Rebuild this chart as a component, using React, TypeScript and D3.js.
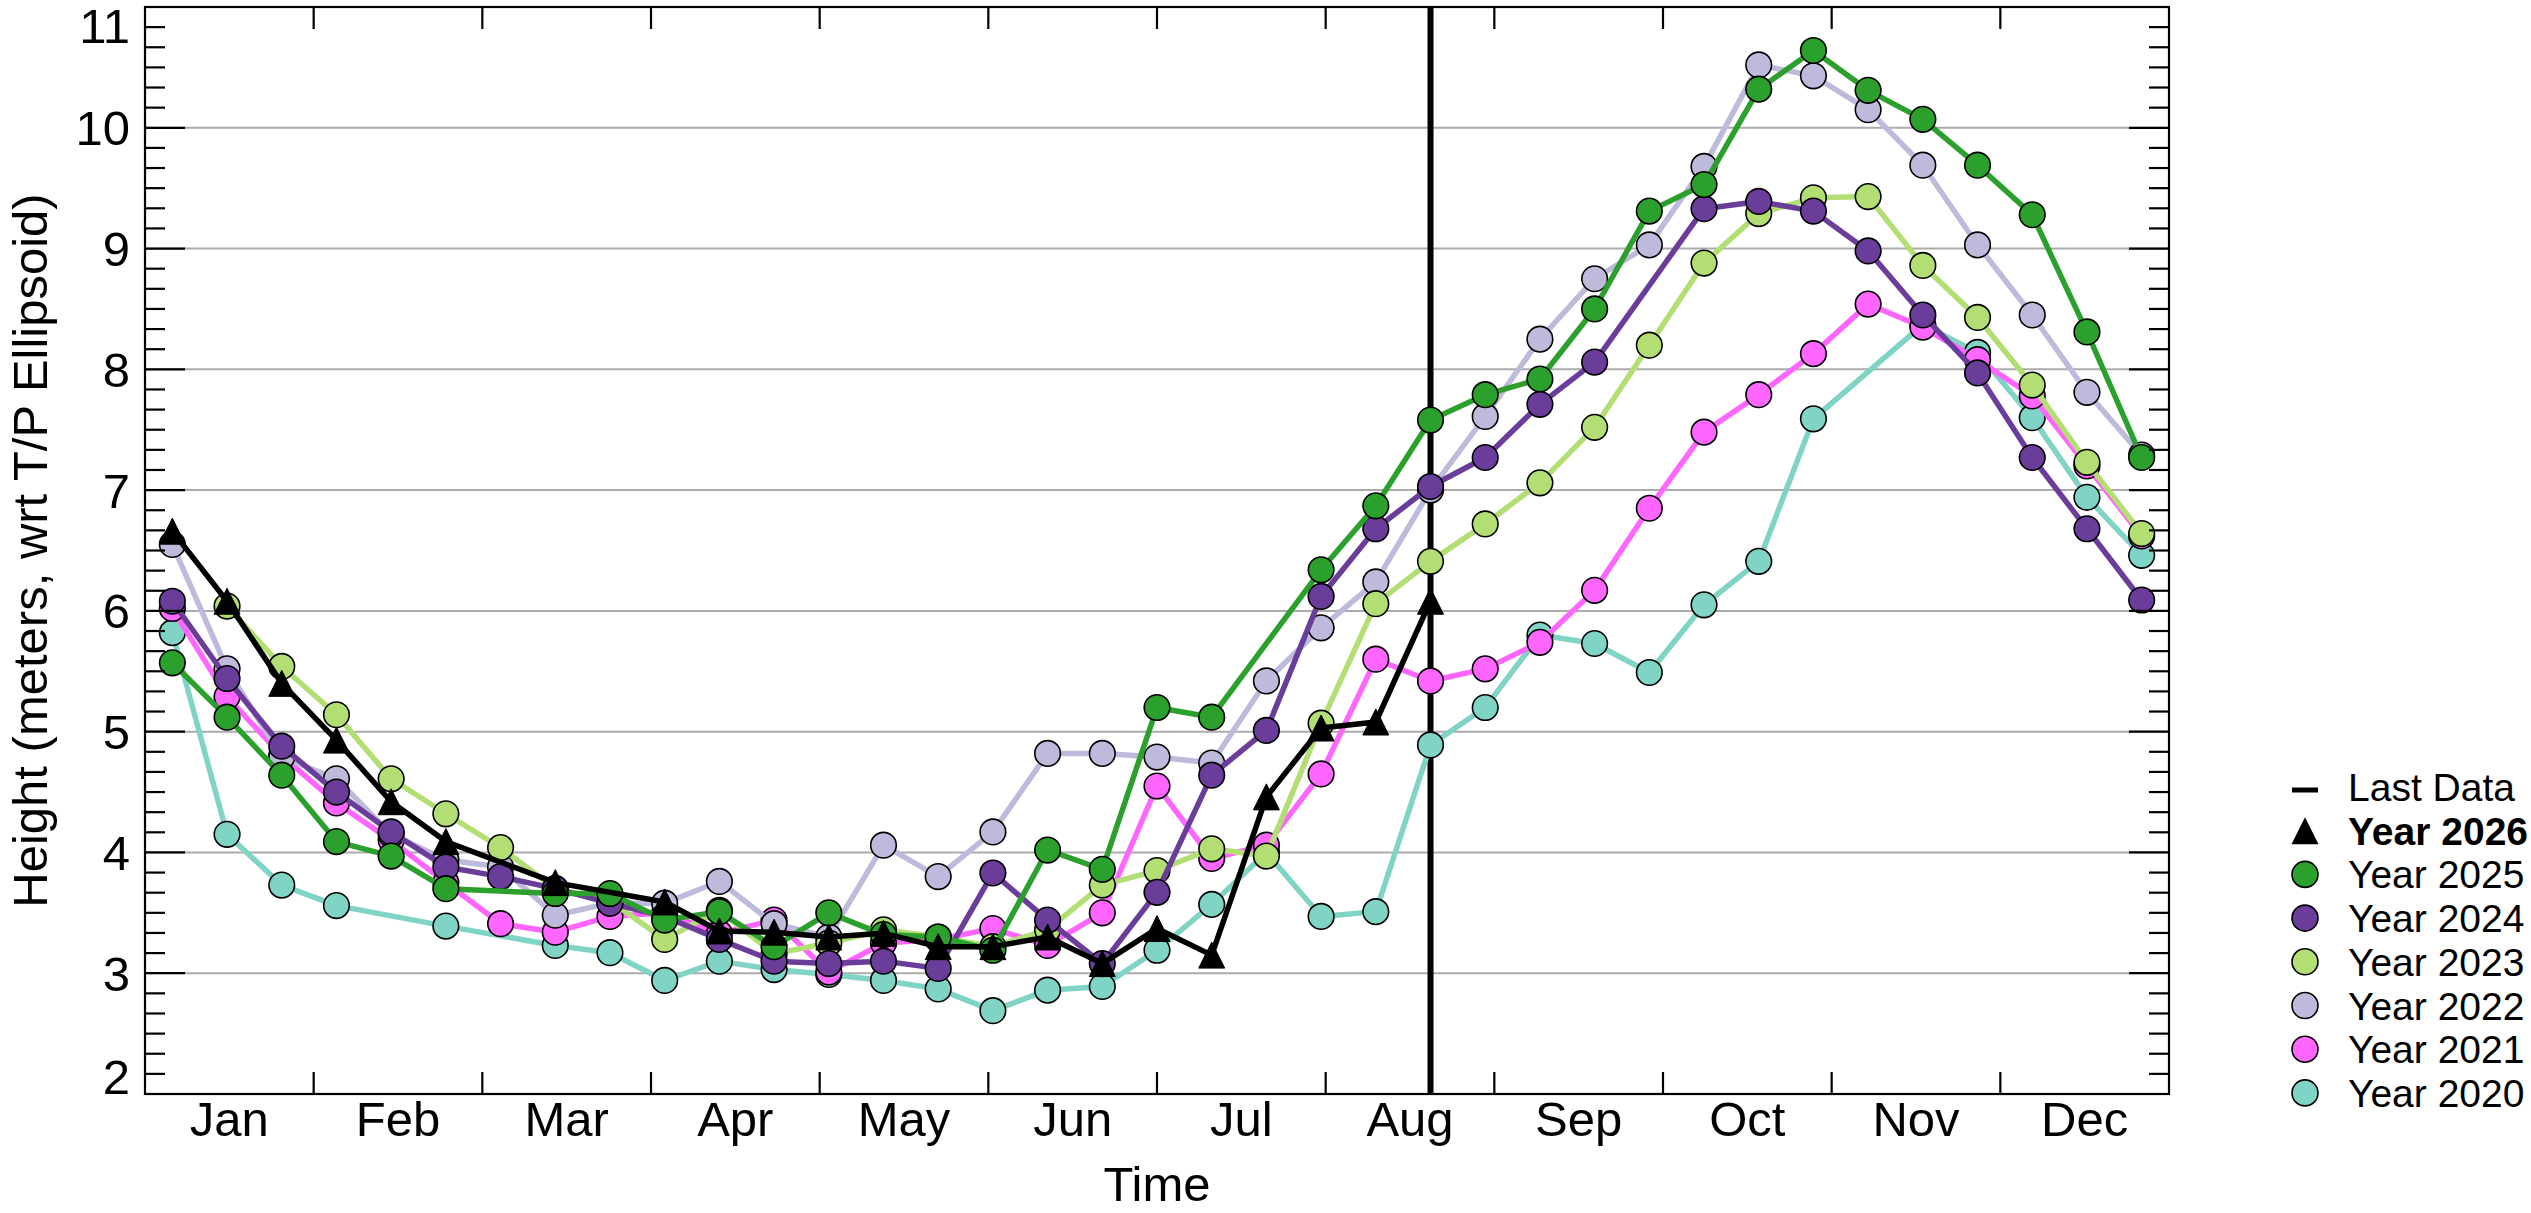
import React from "react";
import * as d3 from "d3";

const W = 2531;
const H = 1213;
const L = 145, R = 2169, T = 7, B = 1094;
const NBINS = 37;

const months = ["Jan", "Feb", "Mar", "Apr", "May", "Jun", "Jul", "Aug", "Sep", "Oct", "Nov", "Dec"];
const yTicks = [2, 3, 4, 5, 6, 7, 8, 9, 10, 11];
const lastDataBin = 23;

type V = number | null;

const y2026: V[] = [6.66, 6.08, 5.40, 4.93, 4.42, 4.09, null, 3.75, null, 3.59, 3.35, 3.34, 3.30, 3.33, 3.22, 3.22, 3.30, 3.08, 3.37, 3.15, 4.46, 5.03, 5.08, 6.08];
const y2025: V[] = [5.57, 5.12, 4.64, 4.09, 3.97, 3.70, null, 3.66, 3.66, 3.44, 3.51, 3.22, 3.50, 3.32, 3.30, 3.19, 4.02, 3.86, 5.20, 5.12, null, 6.34, 6.87, 7.58, 7.79, 7.92, 8.50, 9.31, 9.53, 10.32, 10.64, 10.31, 10.07, 9.69, 9.28, 8.31, 7.27];
const y2024: V[] = [6.08, 5.44, 4.88, 4.50, 4.17, 3.88, 3.80, 3.70, 3.58, 3.47, 3.28, 3.10, 3.08, 3.10, 3.04, 3.83, 3.44, 3.08, 3.67, 4.64, 5.01, 6.12, 6.68, 7.03, 7.27, 7.71, 8.06, null, 9.33, 9.39, 9.31, 8.98, 8.45, 7.97, 7.27, 6.68, 6.09];
const y2023: V[] = [null, 6.04, 5.54, 5.14, 4.61, 4.32, 4.04, 3.70, 3.60, 3.28, 3.52, 3.16, 3.25, 3.36, 3.30, 3.22, 3.36, 3.73, 3.85, 4.03, 3.97, 5.07, 6.06, 6.41, 6.72, 7.06, 7.52, 8.20, 8.88, 9.29, 9.42, 9.43, 8.86, 8.43, 7.87, 7.23, 6.64];
const y2022: V[] = [6.55, 5.52, 4.79, 4.61, 4.15, 3.94, 3.88, 3.48, 3.58, 3.58, 3.76, 3.41, 3.30, 4.06, 3.80, 4.17, 4.82, 4.82, 4.79, 4.74, 5.42, 5.86, 6.24, 7.00, 7.61, 8.25, 8.75, 9.03, 9.68, 10.52, 10.43, 10.15, 9.69, 9.03, 8.45, 7.81, 7.29];
const y2021: V[] = [6.02, 5.29, 4.80, 4.41, 4.10, 3.75, 3.41, 3.34, 3.47, 3.50, 3.33, 3.44, 3.01, 3.25, 3.28, 3.37, 3.23, 3.50, 4.55, 3.95, 4.06, 4.65, 5.60, 5.42, 5.52, 5.74, 6.17, 6.85, 7.48, 7.79, 8.13, 8.54, 8.35, 8.08, 7.78, 7.20, 6.62];
const y2020: V[] = [5.82, 4.15, 3.73, 3.56, null, 3.39, null, 3.23, 3.17, 2.94, 3.10, 3.03, 2.99, 2.94, 2.87, 2.69, 2.86, 2.89, 3.19, 3.57, 4.00, 3.47, 3.51, 4.89, 5.20, 5.80, 5.73, 5.49, 6.05, 6.41, 7.59, null, 8.37, 8.14, 7.60, 6.94, 6.46];

const seriesDefs = [
  { name: "Year 2020", values: y2020, color: "#80d4c6", marker: "circle" },
  { name: "Year 2021", values: y2021, color: "#ff66ff", marker: "circle" },
  { name: "Year 2022", values: y2022, color: "#bebadb", marker: "circle" },
  { name: "Year 2023", values: y2023, color: "#b2de74", marker: "circle" },
  { name: "Year 2024", values: y2024, color: "#6a3d9a", marker: "circle" },
  { name: "Year 2025", values: y2025, color: "#2ca02c", marker: "circle" },
  { name: "Year 2026", values: y2026, color: "#000000", marker: "triangle" },
];

const FONT = "'Liberation Sans', Arial, Helvetica, sans-serif";

const x = d3.scaleLinear().domain([0, NBINS]).range([L, R]);
const y = d3.scaleLinear().domain([2, 11]).range([B, T]);

const triPath = (cx: number, cy: number, s = 13) =>
  `M${cx},${cy - s}L${cx + s},${cy + s}L${cx - s},${cy + s}Z`;

export default function App() {
  const monthX = d3.scaleLinear().domain([0, 12]).range([L, R]);
  const minor = d3.range(2, 11.0001, 1 / 6).filter((v) => Math.abs(v - Math.round(v)) > 0.01);
  const line = d3
    .line<{ k: number; v: number }>()
    .x((d) => x(d.k + 0.5))
    .y((d) => y(d.v));

  const legendOrder = [...seriesDefs].reverse();
  const legendX = 2305;
  const legendTextX = 2348;
  const row0 = 787;
  const rowStep = 43.7;
  const lfs = 39;

  return (
    <svg
      width={W}
      height={H}
      style={{ position: "absolute", left: 0, top: 0, background: "#fff" }}
      fontFamily={FONT}
    >
      <rect x={0} y={0} width={W} height={H} fill="#fff" />
      {yTicks
        .filter((v) => v > 2 && v < 11)
        .map((v) => (
          <line key={"g" + v} x1={L} x2={R} y1={y(v)} y2={y(v)} stroke="#ababab" strokeWidth={2} />
        ))}
      <line x1={x(lastDataBin + 0.5)} x2={x(lastDataBin + 0.5)} y1={T} y2={B} stroke="#000" strokeWidth={6} />
      {seriesDefs.map((s) => {
        const pts = s.values
          .map((v, k) => ({ k, v }))
          .filter((d) => d.v !== null) as { k: number; v: number }[];
        return (
          <g key={s.name}>
            <path d={line(pts) || ""} fill="none" stroke={s.color} strokeWidth={5.5} strokeLinejoin="round" />
            {pts.map((d) =>
              s.marker === "circle" ? (
                <circle key={d.k} cx={x(d.k + 0.5)} cy={y(d.v)} r={12.8} fill={s.color} stroke="#000" strokeWidth={1.6} />
              ) : (
                <path key={d.k} d={triPath(x(d.k + 0.5), y(d.v))} fill="#000" stroke="#000" strokeWidth={1} />
              )
            )}
          </g>
        );
      })}
      <rect x={L} y={T} width={R - L} height={B - T} fill="none" stroke="#000" strokeWidth={2.2} />
      {yTicks.map((v) => (
        <g key={"yt" + v}>
          <line x1={L} x2={L + 40} y1={y(v)} y2={y(v)} stroke="#000" strokeWidth={2.2} />
          <line x1={R} x2={R - 40} y1={y(v)} y2={y(v)} stroke="#000" strokeWidth={2.2} />
        </g>
      ))}
      {minor.map((v, i) => (
        <g key={"ym" + i}>
          <line x1={L} x2={L + 20} y1={y(v)} y2={y(v)} stroke="#000" strokeWidth={2.2} />
          <line x1={R} x2={R - 20} y1={y(v)} y2={y(v)} stroke="#000" strokeWidth={2.2} />
        </g>
      ))}
      {yTicks.map((v) => {
        const cap = 35;
        const cy = Math.min(Math.max(y(v), T + cap / 2 + 1), B - cap / 2);
        return (
          <text key={"yl" + v} x={130} y={cy + cap / 2} textAnchor="end" fontSize={49} fill="#000">
            {v}
          </text>
        );
      })}
      {d3.range(1, 12).map((i) => (
        <g key={"xt" + i}>
          <line x1={monthX(i)} x2={monthX(i)} y1={B} y2={B - 22} stroke="#000" strokeWidth={2.2} />
          <line x1={monthX(i)} x2={monthX(i)} y1={T} y2={T + 22} stroke="#000" strokeWidth={2.2} />
        </g>
      ))}
      {months.map((m, i) => (
        <text key={m} x={monthX(i + 0.5)} y={1136} textAnchor="middle" fontSize={49} fill="#000">
          {m}
        </text>
      ))}
      <text x={(L + R) / 2} y={1201} textAnchor="middle" fontSize={49} fill="#000">
        Time
      </text>
      <text
        transform={`translate(47, ${(T + B) / 2}) rotate(-90)`}
        textAnchor="middle"
        fontSize={49}
        fill="#000"
      >
        Height (meters, wrt T/P Ellipsoid)
      </text>
      <g>
        <line x1={legendX - 13} x2={legendX + 13} y1={row0 + 3} y2={row0 + 3} stroke="#000" strokeWidth={5} />
        <text x={legendTextX} y={row0 + 14} fontSize={lfs} fill="#000">
          Last Data
        </text>
        {legendOrder.map((s, i) => {
          const cy = row0 + rowStep * (i + 1);
          return (
            <g key={"lg" + s.name}>
              {s.marker === "circle" ? (
                <circle cx={legendX} cy={cy} r={13} fill={s.color} stroke="#000" strokeWidth={1.6} />
              ) : (
                <path d={triPath(legendX, cy, 13.5)} fill="#000" />
              )}
              <text
                x={legendTextX}
                y={cy + 14}
                fontSize={lfs}
                fontWeight={s.marker === "triangle" ? "bold" : "normal"}
                fill="#000"
              >
                {s.name}
              </text>
            </g>
          );
        })}
      </g>
    </svg>
  );
}
